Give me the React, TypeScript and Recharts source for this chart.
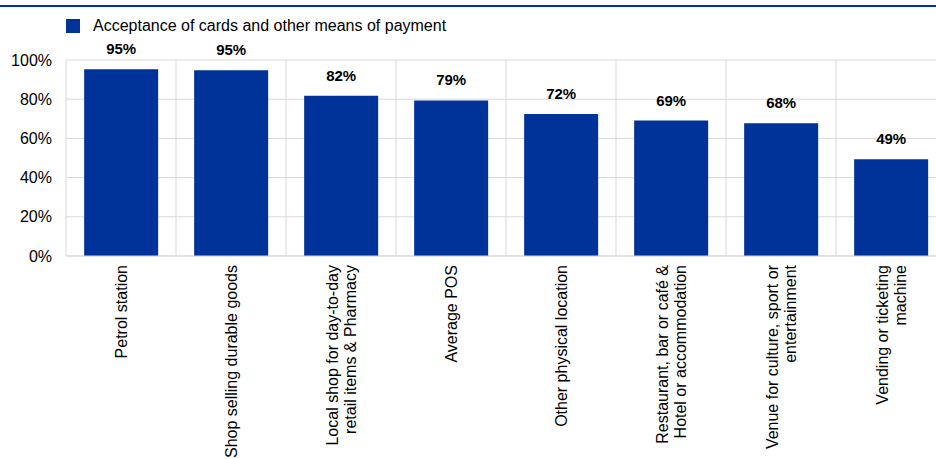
import { BarChart, Bar, XAxis, YAxis, CartesianGrid, LabelList } from 'recharts'

const categories = [
  'Petrol station',
  'Shop selling durable goods',
  'Local shop for day-to-day\nretail items & Pharmacy',
  'Average POS',
  'Other physical location',
  'Restaurant, bar or café &\nHotel or accommodation',
  'Venue for culture, sport or\nentertainment',
  'Vending or ticketing\nmachine',
]

const acceptance = [95.3, 94.8, 81.8, 79.4, 72.4, 69.1, 67.7, 49.4]

const yTicks = [0, 20, 40, 60, 80, 100]

const seriesName = 'Acceptance of cards and other means of payment'

const BLUE = '#003399'
const FONT = '"Liberation Sans", Arial, sans-serif'

const data = categories.map((name, i) => ({ name, value: acceptance[i] }))

function CategoryTick({ x, y, payload }: any) {
  const lines = String(payload.value).split('\n')
  const lh = 18
  return (
    <g transform={`translate(${x},${y})`}>
      <text transform="rotate(-90)" textAnchor="end" fontSize={16} fill="#000" fontFamily={FONT}>
        {lines.map((line, i) => (
          <tspan key={i} x={0} y={(i - (lines.length - 1) / 2) * lh + 5.5}>
            {line}
          </tspan>
        ))}
      </text>
    </g>
  )
}

export default function App() {
  const n = categories.length
  return (
    <div style={{ position: 'absolute', left: 0, top: 0, width: 936, height: 459, overflow: 'hidden', background: '#fff' }}>
      <div style={{ position: 'absolute', left: 0, top: 5, width: 936, height: 2, background: BLUE }} />
      <div
        style={{
          position: 'absolute',
          left: 66,
          top: 18,
          display: 'flex',
          alignItems: 'center',
          fontFamily: FONT,
          fontSize: 16,
          color: '#000',
          lineHeight: '16px',
        }}
      >
        <span style={{ width: 14, height: 14, background: BLUE, display: 'inline-block', marginRight: 13 }} />
        <span>{seriesName}</span>
      </div>
      <BarChart
        width={950}
        height={459}
        data={data}
        margin={{ top: 60, right: 4, bottom: 0, left: 0 }}
        barCategoryGap="16.5%"
      >
        <CartesianGrid
          stroke="#d9d9d9"
          horizontal
          vertical
          verticalCoordinatesGenerator={({ offset }: any) =>
            Array.from({ length: n + 1 }, (_, i) => offset.left + (i * offset.width) / n)
          }
        />
        <XAxis
          dataKey="name"
          interval={0}
          height={203}
          tickSize={0}
          tickMargin={9}
          axisLine={{ stroke: '#d9d9d9' }}
          tickLine={false}
          tick={<CategoryTick />}
        />
        <YAxis
          width={66}
          domain={[0, 100]}
          ticks={yTicks}
          tickFormatter={(v: number) => `${v}%`}
          tickSize={0}
          tickMargin={14}
          axisLine={false}
          tickLine={false}
          tick={{ fontSize: 16, fill: '#000', fontFamily: FONT }}
        />
        <Bar dataKey="value" name={seriesName} fill={BLUE} isAnimationActive={false}>
          <LabelList
            dataKey="value"
            position="top"
            offset={15}
            formatter={(v: any) => `${Math.round(Number(v))}%`}
            style={{ fontSize: 15, fontWeight: 'bold', fill: '#000', fontFamily: FONT }}
          />
        </Bar>
      </BarChart>
    </div>
  )
}
